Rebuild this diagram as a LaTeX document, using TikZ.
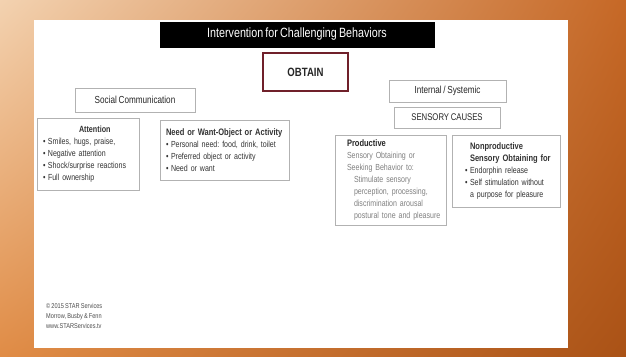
\documentclass[tikz,border=0pt]{standalone}
\usepackage{fontspec}
\newfontfamily\slidefont{Liberation Sans}[FakeStretch=0.8, WordSpace=0.75]
\usetikzlibrary{shadows,shadings}
\definecolor{peach}{RGB}{243,210,176}
\definecolor{ochre}{RGB}{224,140,70}
\definecolor{rust}{RGB}{198,104,38}
\definecolor{umber}{RGB}{170,82,22}
\definecolor{maroon}{RGB}{112,32,42}
\tikzset{slidebox/.style = {draw=gray!60, line width=.7pt, fill=white, drop shadow={shadow xshift=.8pt, shadow yshift=-1pt, opacity=.3}}}
\newcommand{\bul}{\makebox[5pt][l]{\textbullet}}
\frenchspacing

\begin{document}
\begin{tikzpicture}[x=1pt, y=-1pt,
    body/.style={font={\slidefont\frenchspacing\fontsize{8.8}{12}\selectfont}, text=black!80, align=left, inner ysep=0pt},
    head/.style={font={\slidefont\fontsize{10.2}{11}\selectfont}, text=black!85},
    ]
    \useasboundingbox (0,0) rectangle (626,356);
    % Slide background
    \shade[upper left=peach, upper right=rust, lower left=ochre, lower right=umber] (0,0) rectangle (626,356);
    \fill[white] (34,20) rectangle (568,348);

    % Title bar
    \node[slidebox, fill=black, draw=black, minimum width=274, minimum height=25, text=white,
          font={\slidefont\fontsize{13.4}{14}\selectfont}] (title) at (297,34.5) {Intervention for Challenging Behaviors};

    % Function
    \node[fill=white, draw=maroon, line width=2.5pt, minimum width=85, minimum height=38,
          font={\slidefont\bfseries\fontsize{12}{13}\selectfont}, text=black!85] (obtain) at (305.5,72) {OBTAIN};

    % Left branch
    \node[slidebox, head, minimum width=120, minimum height=24] (social) at (135,100) {Social Communication};
    \node[slidebox, body, minimum width=102, minimum height=72, text width=90, inner xsep=6] (attn) at (88,154)
        {\hspace*{36pt}{\bfseries\fontsize{9}{12}\selectfont Attention}\\
         \bul Smiles, hugs, praise,\\
         \bul Negative attention\\
         \bul Shock/surprise reactions\\
         \bul Full ownership};
    \node[slidebox, body, minimum width=129, minimum height=60, text width=121, inner xsep=4] (need) at (224.5,150)
        {\hspace*{2pt}\mbox{\bfseries\fontsize{9.4}{12}\selectfont Need or Want-Object or Activity}\\
         \hspace*{2pt}\bul Personal need: food, drink, toilet\\
         \hspace*{2pt}\bul Preferred object or activity\\
         \hspace*{2pt}\bul Need or want};

    % Right branch
    \node[slidebox, head, minimum width=117, minimum height=22] (internal) at (447.5,91) {Internal / Systemic};
    \node[slidebox, head, font={\slidefont\fontsize{9.7}{11}\selectfont}, minimum width=106, minimum height=21] (sensory) at (447,117.5) {SENSORY CAUSES};
    \node[slidebox, body, minimum width=111, minimum height=90, text width=97, inner xsep=7] (prod) at (390.5,180)
        {\hspace*{5pt}{\bfseries\fontsize{9.4}{12}\selectfont\color{black!85}Productive}\\
         \color{black!50}\hspace*{5pt}Sensory Obtaining or\\
         \hspace*{5pt}Seeking Behavior to:\\
         \hspace*{12pt}Stimulate sensory\\
         \hspace*{12pt}perception, processing,\\
         \hspace*{12pt}discrimination arousal\\
         \hspace*{12pt}\mbox{postural tone and pleasure}};
    \node[slidebox, body, minimum width=108, minimum height=72, text width=98, inner xsep=5] (nonprod) at (506,171)
        {\hspace*{13pt}{\bfseries\fontsize{9.4}{12}\selectfont Nonproductive}\\
         \hspace*{13pt}\mbox{\bfseries\fontsize{9.4}{12}\selectfont Sensory Obtaining for}\\
         \hspace*{8pt}\bul Endorphin release\\
         \hspace*{8pt}\bul Self stimulation without\\
         \hspace*{13pt}a purpose for pleasure};

    % Footer
    \node[anchor=north west, align=left, inner sep=0pt, text=black!70,
          font={\slidefont\fontsize{7}{10}\selectfont}] (credit) at (46,303)
        {\copyright{} 2015 STAR Services\\ Morrow, Busby \& Fenn\\ www.STARServices.tv};
\end{tikzpicture}
\end{document}
